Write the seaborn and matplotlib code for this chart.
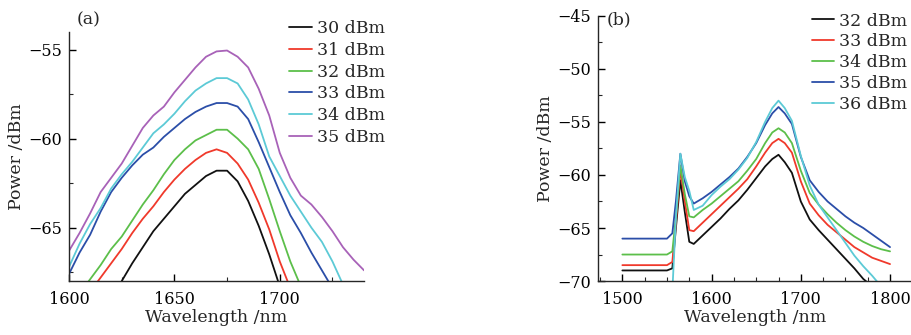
import matplotlib
matplotlib.use("Agg")
import matplotlib.pyplot as plt
import seaborn as sns
import pandas as pd
from matplotlib.ticker import MultipleLocator

# panel (a): pump power 30-35 dBm
wl_a = [1600, 1605, 1610, 1615, 1620, 1625, 1630, 1635, 1640, 1645,
        1650, 1655, 1660, 1665, 1670, 1675, 1680, 1685, 1690, 1695,
        1700, 1705, 1710, 1715, 1720, 1725, 1730, 1735, 1740]
labels_a = ["30 dBm", "31 dBm", "32 dBm", "33 dBm", "34 dBm", "35 dBm"]
p30 = [-73.0, -73.0, -72.0, -70.5, -69.2, -68.0, -67.0, -66.1, -65.2, -64.5,
       -63.8, -63.1, -62.6, -62.1, -61.8, -61.8, -62.4, -63.5, -64.9, -66.5,
       -68.3, -70.0, -71.0, -71.0, -71.0, -71.0, -71.0, -71.0, -71.0]
p31 = [-70.5, -69.5, -68.6, -67.8, -67.0, -66.2, -65.3, -64.5, -63.8, -63.0,
       -62.3, -61.7, -61.2, -60.8, -60.6, -60.8, -61.4, -62.3, -63.6, -65.1,
       -66.9, -68.4, -70.0, -71.0, -71.0, -71.0, -71.0, -71.0, -71.0]
p32 = [-69.5, -68.7, -67.9, -67.1, -66.2, -65.5, -64.6, -63.7, -62.9, -62.0,
       -61.2, -60.6, -60.1, -59.8, -59.5, -59.5, -60.0, -60.6, -61.7, -63.4,
       -65.2, -66.9, -68.3, -69.5, -70.5, -71.0, -71.0, -71.0, -71.0]
p33 = [-67.6, -66.4, -65.4, -64.1, -63.0, -62.2, -61.5, -60.9, -60.5, -59.9,
       -59.4, -58.9, -58.5, -58.2, -58.0, -58.0, -58.2, -58.9, -60.2, -61.6,
       -63.0, -64.3, -65.3, -66.4, -67.4, -68.4, -69.3, -70.0, -70.5]
p34 = [-67.2, -65.9, -64.8, -63.9, -62.8, -62.0, -61.3, -60.5, -59.7, -59.2,
       -58.6, -57.9, -57.3, -56.9, -56.6, -56.6, -56.9, -57.8, -59.2, -61.0,
       -62.1, -63.2, -64.1, -65.0, -65.8, -66.9, -68.2, -69.0, -69.8]
p35 = [-66.3, -65.3, -64.2, -63.0, -62.2, -61.4, -60.4, -59.4, -58.7, -58.2,
       -57.4, -56.7, -56.0, -55.4, -55.1, -55.05, -55.4, -56.0, -57.2, -58.7,
       -60.8, -62.2, -63.2, -63.7, -64.4, -65.2, -66.1, -66.8, -67.4]
colors_a = ["#111111", "#f0392b", "#5cbf4a", "#2b4ea8", "#5ccad6", "#a862b8"]

# panel (b): pump power 32-36 dBm
wl_b = [1500, 1510, 1520, 1530, 1540, 1550, 1556, 1560, 1565, 1570,
        1575, 1580, 1590, 1600, 1610, 1620, 1630, 1640, 1650, 1660,
        1668, 1675, 1682, 1690, 1700, 1710, 1720, 1730, 1740, 1750,
        1760, 1770, 1780, 1790, 1800]
labels_b = ["32 dBm", "33 dBm", "34 dBm", "35 dBm", "36 dBm"]
q32 = [-69.0, -69.0, -69.0, -69.0, -69.0, -69.0, -68.8, -65.0, -60.5, -63.5,
       -66.3, -66.5, -65.7, -64.9, -64.1, -63.2, -62.4, -61.4, -60.3, -59.2,
       -58.5, -58.1, -58.8, -59.8, -62.5, -64.2, -65.2, -66.1, -67.0, -67.9,
       -68.8, -69.8, -70.5, -71.0, -71.0]
q33 = [-68.5, -68.5, -68.5, -68.5, -68.5, -68.5, -68.2, -64.5, -59.5, -62.5,
       -65.2, -65.3, -64.5, -63.7, -62.9, -62.1, -61.3, -60.4, -59.2, -57.9,
       -57.0, -56.6, -57.0, -57.9, -60.6, -62.7, -63.8, -64.7, -65.4, -66.1,
       -66.8, -67.3, -67.8, -68.1, -68.4]
q34 = [-67.5, -67.5, -67.5, -67.5, -67.5, -67.5, -67.2, -64.0, -59.1, -61.8,
       -63.9, -64.0, -63.3, -62.7, -62.0, -61.3, -60.6, -59.6, -58.5, -57.0,
       -56.0, -55.6, -56.0, -57.0, -59.6, -61.7, -62.8, -63.7, -64.5, -65.2,
       -65.8, -66.3, -66.7, -67.0, -67.2]
q35 = [-66.0, -66.0, -66.0, -66.0, -66.0, -66.0, -65.5, -62.5, -58.0, -60.6,
       -62.0, -62.7, -62.2, -61.6, -60.9, -60.2, -59.4, -58.3, -57.0, -55.3,
       -54.2, -53.6, -54.2, -55.2, -58.3, -60.5, -61.6, -62.5, -63.2, -63.9,
       -64.5, -65.0, -65.6, -66.2, -66.8]
q36 = [-71.0, -71.0, -71.0, -71.0, -71.0, -71.0, -71.0, -64.0, -58.0, -60.2,
       -61.5, -63.3, -62.9, -61.9, -61.1, -60.4, -59.5, -58.4, -56.9, -55.0,
       -53.7, -53.0, -53.7, -54.9, -58.2, -61.0, -62.8, -64.0, -65.2, -66.4,
       -67.6, -68.6, -69.5, -70.5, -71.0]
colors_b = ["#111111", "#f0392b", "#5cbf4a", "#2b4ea8", "#5ccad6"]

sns.set_style("ticks")
plt.rcParams["font.family"] = ["DejaVu Serif"]
plt.rcParams["mathtext.fontset"] = "dejavuserif"

fig = plt.figure(figsize=(9.12, 3.35), dpi=100)
ax1 = fig.add_axes([0.0757, 0.161, 0.3235, 0.744])
ax2 = fig.add_axes([0.656, 0.161, 0.3434, 0.792])

for vals, lab, col in zip([p30, p31, p32, p33, p34, p35], labels_a, colors_a):
    df = pd.DataFrame({"wl": wl_a, "p": vals})
    sns.lineplot(data=df, x="wl", y="p", ax=ax1, color=col, label=lab,
                 linewidth=1.3, sort=False)

for vals, lab, col in zip([q32, q33, q34, q35, q36], labels_b, colors_b):
    df = pd.DataFrame({"wl": wl_b, "p": vals})
    sns.lineplot(data=df, x="wl", y="p", ax=ax2, color=col, label=lab,
                 linewidth=1.3, sort=False)

ax1.set_xlim(1600, 1740)
ax1.set_ylim(-68, -54)
ax1.xaxis.set_major_locator(MultipleLocator(50))
ax1.xaxis.set_minor_locator(MultipleLocator(25))
ax1.yaxis.set_major_locator(MultipleLocator(5))
ax1.yaxis.set_minor_locator(MultipleLocator(2.5))

ax2.set_xlim(1473, 1824)
ax2.set_ylim(-70, -45)
ax2.xaxis.set_major_locator(MultipleLocator(100))
ax2.xaxis.set_minor_locator(MultipleLocator(25))
ax2.yaxis.set_major_locator(MultipleLocator(5))
ax2.yaxis.set_minor_locator(MultipleLocator(2.5))

for ax, tag, ty in [(ax1, "(a)", 1.047), (ax2, "(b)", 0.984)]:
    sns.despine(ax=ax)
    ax.spines["left"].set_linewidth(1.0)
    ax.spines["bottom"].set_linewidth(1.0)
    ax.tick_params(which="major", direction="in", length=5, width=1.0,
                   labelsize=11.5, colors="black")
    ax.tick_params(which="minor", direction="in", length=3, width=0.8)
    ax.tick_params(axis="y", pad=5)
    ax.tick_params(axis="x", pad=7)
    ax.set_xlabel("Wavelength /nm", fontsize=12.5, labelpad=1)
    ax.set_ylabel("Power /dBm", fontsize=12.5, labelpad=2.5)
    ax.text(0.027, ty, tag, transform=ax.transAxes, fontsize=12.5,
            ha="left", va="center")

ax1.legend(loc="upper left", bbox_to_anchor=(0.746, 1.046), frameon=False,
           fontsize=12.5, handlelength=1.3, handletextpad=0.3,
           labelspacing=0.27, borderaxespad=0, borderpad=0)
ax2.legend(loc="upper left", bbox_to_anchor=(0.681, 1.012), frameon=False,
           fontsize=12.5, handlelength=1.3, handletextpad=0.3,
           labelspacing=0.22, borderaxespad=0, borderpad=0)

fig.savefig("out.png", dpi=100)
